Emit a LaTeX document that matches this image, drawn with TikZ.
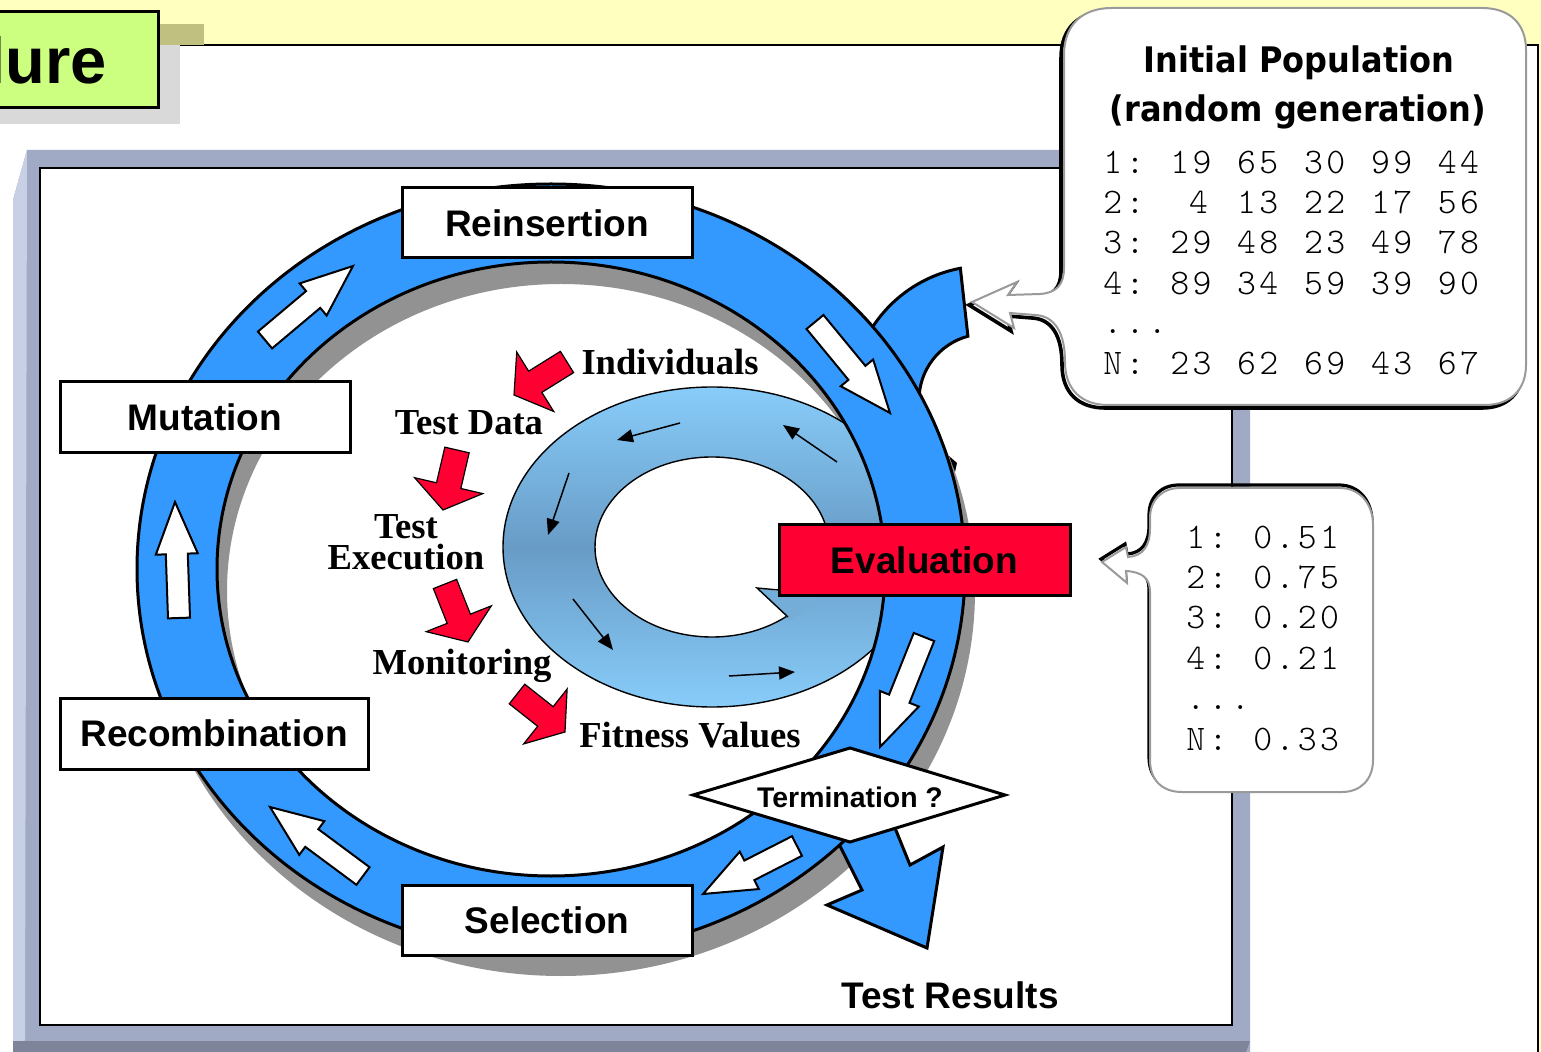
\documentclass[tikz,border=0pt]{standalone}
\usepackage{fontspec}
\setmainfont{Liberation Serif}
\newfontfamily\labelfont{Liberation Sans}
\newfontfamily\headfont{DejaVu Sans}
\newfontfamily\codefont{lmmonolt10-regular.otf}[LetterSpace=9.4]
\usetikzlibrary{arrows.meta,calc}

\definecolor{slideyellow}{HTML}{FFFFC0}
\definecolor{titlegreen}{HTML}{CCFF80}
\definecolor{titleolive}{HTML}{C0C080}
\definecolor{titleshade}{HTML}{D9D9D9}
\definecolor{frameblue}{HTML}{A0AAC4}
\definecolor{framelight}{HTML}{C8D0E6}
\definecolor{framedark}{HTML}{7E8499}
\definecolor{ringblue}{HTML}{3399FF}
\definecolor{ringshadow}{HTML}{929292}
\definecolor{evalred}{HTML}{FF0033}
\definecolor{loopdark}{HTML}{689CC6}
\definecolor{looplight}{HTML}{88CCFA}
\definecolor{calloutgray}{HTML}{9A9A9A}

% block arrow from tail (#2,#3) to tip (#4,#5); sizes from \shafthw, \headhw, \headlen
\newcommand\blockarrow[5]{%
  \pgfmathsetmacro\arrang{atan2((#3)-(#5),(#4)-(#2))}%
  \pgfmathsetmacro\arrlen{veclen((#4)-(#2),(#5)-(#3))}%
  \pgfmathsetmacro\arrneck{\arrlen-\headlen}%
  \draw[#1, shift={(#2,#3)}, rotate=\arrang]
    (0,\shafthw) -- (\arrneck,\shafthw) -- (\arrneck,\headhw) -- (\arrlen,0)
    -- (\arrneck,-\headhw) -- (\arrneck,-\shafthw) -- (0,-\shafthw) -- cycle;}

% one row of the population table: id, baseline, label, five values
\newcommand\poprow[4]{%
  \node[code, anchor=base west] (pop#1) at (1103,#2) {#3};
  \foreach \v [count=\k] in {#4}
    \node[code, anchor=base west] (pop#1v\k) at ({1103+3*\k*22.3},#2) {\v};}
% one row of the fitness table: id, baseline, label, value
\newcommand\fitrow[4]{%
  \node[code, anchor=base west] (fit#1) at (1186,#2) {#3};
  \node[code, anchor=base west] (fit#1v) at ({1186+3*22.3},#2) {#4};}

\begin{document}
\begin{tikzpicture}[x=0.5pt, y=-0.5pt,
  stagebox/.style={draw=black, line width=1.5pt, fill=white, inner sep=0pt,
    font=\labelfont\bfseries\fontsize{18.5}{20}\selectfont},
  serifl/.style={font=\bfseries\fontsize{18.3}{15.5}\selectfont, inner sep=0pt},
  code/.style={font=\codefont\fontsize{18}{20}\selectfont, inner sep=0pt},
  headline/.style={anchor=base, inner sep=0pt, font=\headfont\bfseries\fontsize{16}{18}\selectfont},
  redarrow/.style={fill=evalred, draw=black, line width=0.6pt},
  whitearrow/.style={fill=white, draw=black, line width=1pt},
  loopflow/.style={-{Triangle[length=8pt,width=6.5pt]}, line width=0.75pt},
  ringline/.style={draw=black, line width=1.5pt},
  popshape/.style={insert path={(1064,268) -- (1064,55)
    .. controls (1064,25) and (1082,8) .. (1112,8) -- (1482,8)
    .. controls (1510,8) and (1526,24) .. (1526,50) -- (1526,365)
    .. controls (1526,390) and (1510,405) .. (1485,405) -- (1108,405)
    .. controls (1082,405) and (1065,390) .. (1065,362)
    .. controls (1065,333) and (1055,316) .. (1035,315)
    -- (1010,313) -- (1014,328) -- (972,302) -- (1017,282) -- (1008,295)
    -- (1040,294) .. controls (1056,293) and (1064,285) .. (1064,268) -- cycle}},
  fitshape/.style={insert path={(1150,528) -- (1150,518)
    .. controls (1150,500) and (1162,488) .. (1180,488) -- (1340,488)
    .. controls (1360,488) and (1373,504) .. (1373,525) -- (1373,760)
    .. controls (1373,780) and (1360,792) .. (1342,792) -- (1182,792)
    .. controls (1162,792) and (1150,780) .. (1150,760) -- (1150,592)
    .. controls (1150,578) and (1142,572) .. (1126,571)
    -- (1127,583) -- (1102,562) -- (1126,547) -- (1128,557)
    .. controls (1143,556) and (1150,546) .. (1150,528) -- cycle}},
]
\useasboundingbox (0,0) rectangle (1541,1052);
\clip (0,0) rectangle (1541,1052);

% slide background
\fill[slideyellow] (0,0) rectangle (1541,1052);
\fill[white] (-5,45) rectangle (1538,1060);
\draw[line width=1pt] (158,45) -- (1538,45) -- (1538,1060);

% title tab
\fill[titleolive] (158,24) rectangle (204,45);
\fill[titleshade] (-5,45) rectangle (180,124);
\draw[fill=titlegreen, line width=1.5pt] (-10,12) rectangle (158,108);
\node[anchor=base east, inner sep=0pt, font=\labelfont\bfseries\fontsize{32.5}{36}\selectfont] (title) at (107,84) {lure};

% bevelled frame
\fill[frameblue] (27,150) -- (1250,150) -- (1250,1052) -- (13,1052) -- (13,200) -- cycle;
\fill[framelight] (27,150) -- (25,1040) -- (13,1052) -- (13,200) -- cycle;
\fill[framedark] (13,1041) -- (1250,1041) -- (1246,1052) -- (13,1052) -- cycle;
\draw[fill=white, line width=1.2pt] (40,168) rectangle (1232,1025);

% shadow of the main cycle
\fill[ringshadow, even odd rule]
  (561,591) ellipse [x radius=414, y radius=385]
  (561,591) ellipse [x radius=334, y radius=307];

% inner test loop
\path[draw=black, line width=0.7pt, top color=looplight, bottom color=looplight, middle color=loopdark]
  (712,547) ellipse [x radius=209, y radius=160];
\draw[fill=white, line width=0.7pt] (712,547) ellipse [x radius=117, y radius=90];
\fill[loopdark!65!looplight] (757,588) -- (790,620) -- (815,605) -- (815,592) -- (779,591) -- cycle;
\draw[line width=0.7pt] (788,617) -- (757,588) -- (800,592);
\draw[loopflow] (680,423) -- (617,440);
\draw[loopflow] (837,462) -- (783,425);
\draw[loopflow] (569,473) -- (548,535);
\draw[loopflow] (573,599) -- (613,650);
\draw[loopflow] (729,676) -- (795,672);

% inflow of the initial population and outflow of the results
\path[fill=ringblue, ringline] (985,400) ++(205:134)
  arc[start angle=205, end angle=259.4, radius=134]
  -- ($(985,400)+(255:66)$) arc[start angle=255, end angle=180, radius=66] -- cycle;
\path[fill=ringblue, ringline] (830,826) -- (862,890) -- (827,905) -- (927,948)
  -- (943,847) -- (910,865) -- (880,791) -- cycle;

% main evolutionary cycle
\path[fill=ringblue, ringline, even odd rule]
  (551,569) ellipse [x radius=414, y radius=385]
  (551,569) ellipse [x radius=334, y radius=307];
\fill (949,456) -- (957,463) -- (955,472) -- cycle;

% direction arrows on the cycle
\def\shafthw{11}\def\headhw{21}\def\headlen{52}
\blockarrow{whitearrow}{265}{340}{353}{266}
\blockarrow{whitearrow}{179}{618}{175}{502}
\blockarrow{whitearrow}{363}{876}{270}{807}
\blockarrow{whitearrow}{815}{322}{890}{413}
\blockarrow{whitearrow}{924}{637}{880}{747}
\blockarrow{whitearrow}{797}{846}{703}{894}

% stages
\node[stagebox, minimum width=145pt, minimum height=35pt] (reinsertion) at (547,223) {Reinsertion};
\node[stagebox, minimum width=145pt, minimum height=35.5pt] (mutation) at (205,417.5) {Mutation};
\node[stagebox, minimum width=154pt, minimum height=35.5pt] (recombination) at (214,733.5) {Recombination};
\node[stagebox, minimum width=145pt, minimum height=35pt] (selection) at (547,920) {Selection};
\node[stagebox, fill=evalred, minimum width=145.5pt, minimum height=35.5pt] (evaluation) at (924.5,560.5) {Evaluation};

% termination test
\draw[fill=white, line width=1.5pt] (693,795) -- (850,748) -- (1005,795) -- (850,842) -- cycle;
\node[anchor=base, inner sep=0pt, font=\labelfont\bfseries\fontsize{14.2}{16}\selectfont] (termination) at (850,807) {Termination ?};

% evaluation steps
\def\shafthw{12.5}\def\headhw{35}\def\headlen{25}
\blockarrow{redarrow}{567}{362}{514}{395}
\blockarrow{redarrow}{457}{450}{443}{510}
\blockarrow{redarrow}{445}{584}{468}{642}
\blockarrow{redarrow}{517}{694}{565}{732}
\node[serifl, anchor=base] (individuals) at (670,375) {Individuals};
\node[serifl, anchor=base] (testdata) at (469,435) {Test Data};
\node[serifl, align=center, anchor=center] (execution) at (406,542) {Test\\Execution};
\node[serifl, anchor=base] (monitoring) at (462,675) {Monitoring};
\node[serifl, anchor=base] (fitness) at (690,747) {Fitness Values};

\node[anchor=base, inner sep=0pt, font=\labelfont\bfseries\fontsize{18.5}{20}\selectfont] (results) at (950,1008) {Test Results};

% initial population callout
\draw[line width=1.8pt, shift={(-3,3)}, popshape];
\draw[fill=white, draw=calloutgray, line width=1pt, popshape];
\node[headline] (pophead) at (1299,73) {\scalebox{1}[1.1]{Initial Population}};
\node[headline] (popsub) at (1298,122) {\scalebox{1}[1.1]{(random generation)}};
\poprow{1}{174}{1:}{19,65,30,99,44}
\poprow{2}{214}{2:}{\phantom{0}4,13,22,17,56}
\poprow{3}{254}{3:}{29,48,23,49,78}
\poprow{4}{295}{4:}{89,34,59,39,90}
\node[code, anchor=base west] (popdots) at (1103,334) {...};
\poprow{N}{375}{N:}{23,62,69,43,67}

% fitness callout
\draw[line width=1.6pt, shift={(-1,-3)}, fitshape];
\draw[fill=white, draw=calloutgray, line width=1pt, fitshape];
\fitrow{1}{549}{1:}{0.51}
\fitrow{2}{589}{2:}{0.75}
\fitrow{3}{629}{3:}{0.20}
\fitrow{4}{669}{4:}{0.21}
\node[code, anchor=base west] (fitdots) at (1186,710) {...};
\fitrow{N}{750}{N:}{0.33}
\end{tikzpicture}
\end{document}
